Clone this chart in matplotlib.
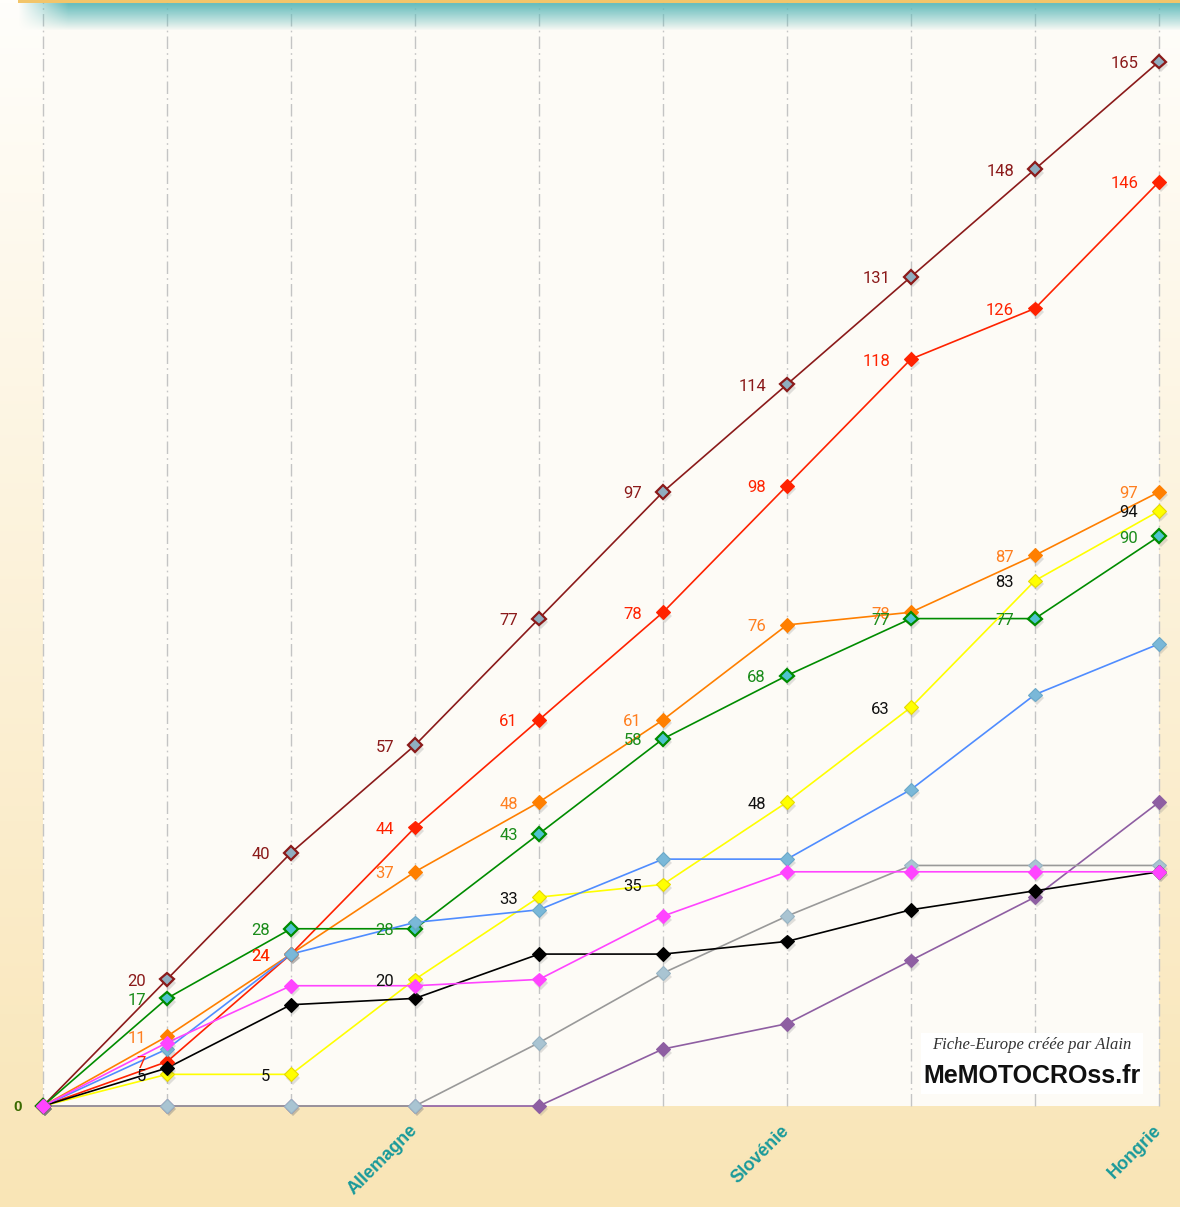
import numpy as np
import matplotlib
matplotlib.use("Agg")
import matplotlib.pyplot as plt
import matplotlib.patheffects as pe
from matplotlib.colors import to_rgb

# ---------------- data ----------------
categories = ["", "", "", "Allemagne", "", "", "Slovénie", "", "", "Hongrie"]
darkred = [0, 20, 40, 57, 77, 97, 114, 131, 148, 165]
red     = [0, 7, 24, 44, 61, 78, 98, 118, 126, 146]
orange  = [0, 11, 24, 37, 48, 61, 76, 78, 87, 97]
green   = [0, 17, 28, 28, 43, 58, 68, 77, 77, 90]
yellow  = [0, 5, 5, 20, 33, 35, 48, 63, 83, 94]
blue    = [0, 9, 24, 29, 31, 39, 39, 50, 65, 73]
magenta = [0, 10, 19, 19, 20, 30, 37, 37, 37, 37]
black   = [0, 6, 16, 17, 24, 24, 26, 31, 34, 37]
gray    = [0, 0, 0, 0, 10, 21, 30, 38, 38, 38]
purple  = [0, 0, 0, 0, 0, 9, 13, 23, 33, 48]

# (values, line colour, marker face, marker edge, edge width, label colour or None)
series = [
    (darkred, "#8B1A1A", "#8FAEC0", "#8B1A1A", 1.6, "#8B1A1A"),
    (orange,  "#FF7F00", "#FF7F00", "#FF7F00", 0.8, "#FF7F20"),
    (red,     "#FF2200", "#FF2200", "#FF2200", 0.8, "#FF2200"),
    (green,   "#008C00", "#4FC3D0", "#008C00", 1.6, "#1A8C1A"),
    (yellow,  "#FFFF00", "#FFFF00", "#E6D800", 0.8, "#111111"),
    (blue,    "#4F8CFF", "#7AB8D8", "#6AA8C8", 0.8, None),
    (purple,  "#8E5EA2", "#8E5EA2", "#8E5EA2", 0.8, None),
    (gray,    "#999999", "#A9C4D2", "#98B4C4", 0.8, None),
    (black,   "#000000", "#000000", "#000000", 0.8, None),
    (magenta, "#FF44FF", "#FF44FF", "#FF44FF", 0.8, None),
]

W, H = 1180, 1207
fig = plt.figure(figsize=(W / 100, H / 100), dpi=100)

# ---------- background gradient ----------
bg = fig.add_axes([0, 0, 1, 1], zorder=-10)
top = np.array(to_rgb("#FFFEFB"))
bot = np.array(to_rgb("#F9E5B6"))
t = np.linspace(0, 1, 400)[:, None]
grad = top * (1 - t) + bot * t
bg.imshow(grad[:, None, :].repeat(2, axis=1), aspect="auto", extent=[0, 1, 0, 1], origin="upper")
bg.set_axis_off()

# ---------- main axes ----------
x0, x1 = 43, 1159
ytop_px, y0_px = 0, 1106
scale = 6.33
ax = fig.add_axes([x0 / W, (H - y0_px) / H, (x1 - x0) / W, (y0_px - ytop_px) / H])
ax.set_facecolor("#FDFBF6")
ax.set_xlim(0, len(categories) - 1)
ax.set_ylim(0, (y0_px - ytop_px) / scale)
for s in ax.spines.values():
    s.set_visible(False)
ax.set_yticks([])
ax.set_xticks(range(len(categories)))
ax.set_xticklabels([])
ax.tick_params(axis="x", length=0)

xs = np.arange(len(categories))
for xv in xs:
    ax.axvline(xv, color="#C4C4C4", lw=1.0, ls=(0, (9, 3, 1.2, 3)), zorder=1, clip_on=False)

shadow = [pe.SimplePatchShadow(offset=(1.5, -2.5), shadow_rgbFace="#777777", alpha=0.22), pe.Normal()]

lab_font = ["Roboto", "DejaVu Sans"]
for i, (vals, lc, mf, me, mw, tc) in enumerate(series):
    ax.plot(xs, vals, color=lc, lw=1.2, zorder=3 + i, clip_on=False)
    ax.plot(xs, vals, ls="none", marker="D", ms=7, mfc=mf, mec=me,
            mew=mw, zorder=20 + i, clip_on=False, path_effects=shadow)
    if tc is not None:
        for xv, v in zip(xs[1:], vals[1:]):
            ax.annotate(str(v), (xv, v), xytext=(-21, -2), textcoords="offset pixels",
                        ha="right", va="center", color=tc, fontsize=12,
                        family=lab_font, zorder=40)

ax.annotate("0", (0, 0), xytext=(-21, -1), textcoords="offset pixels", ha="right",
            va="center", color="#3A6A00", fontsize=11, fontweight="bold",
            family=["Liberation Sans", "DejaVu Sans"], annotation_clip=False)

# category labels
for xv, lab in zip(xs, categories):
    if lab:
        ax.annotate(lab, (xv, 0), xytext=(6, -16), textcoords="offset pixels",
                    ha="right", va="top", rotation=45, color="#1A9A9A",
                    fontsize=13, fontweight="bold",
                    family=["Liberation Sans", "DejaVu Sans"], annotation_clip=False)

# ---------- top teal band ----------
band = fig.add_axes([0, 1 - 36 / H, 1, 36 / H], zorder=5)
band.set_axis_off()
nh, nw = 36, 1180
img = np.zeros((nh, nw, 4))
teal = np.array(to_rgb("#62BBBB"))
img[..., :3] = teal
yy = np.arange(nh)[:, None].astype(float)
xx = np.arange(nw)[None, :]
alpha_y = np.clip(1 - (yy - 4) / 26, 0, 1) ** 0.9
alpha_x = np.clip((xx - 18) / 50, 0, 1)
img[..., 3] = 0.95 * alpha_y * alpha_x
img[:3, 18:, :3] = to_rgb("#F2C56A")
img[:3, 18:, 3] = 1.0
band.imshow(img, aspect="auto", extent=[0, 1, 0, 1], origin="upper", interpolation="bilinear")
band.set_xlim(0, 1)
band.set_ylim(0, 1)

# ---------- logo ----------
logo = fig.add_axes([921 / W, (H - 1094) / H, (1143 - 921) / W, (1094 - 1033) / H], zorder=50)
logo.set_facecolor("white")
for s in logo.spines.values():
    s.set_visible(False)
logo.set_xticks([])
logo.set_yticks([])
logo.text(0.5, 0.80, "Fiche-Europe créée par Alain", ha="center", va="center",
          fontsize=12, style="italic", color="#333333",
          family=["Liberation Serif", "DejaVu Serif"], transform=logo.transAxes)
logo.text(0.5, 0.30, "MeMOTOCROss.fr", ha="center", va="center",
          fontsize=18, fontweight="bold", color="#111111",
          family=["Liberation Sans", "DejaVu Sans"], transform=logo.transAxes)

fig.savefig("out.png", dpi=100)
